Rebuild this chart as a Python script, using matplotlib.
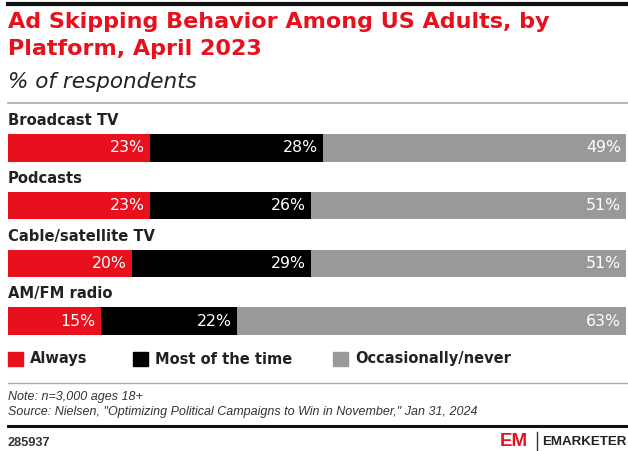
import matplotlib
matplotlib.use('Agg')
import matplotlib.pyplot as plt
from matplotlib.lines import Line2D
from matplotlib.patches import Rectangle

plt.rcParams['font.family'] = ['DejaVu Sans']

# data
platforms = ['Broadcast TV', 'Podcasts', 'Cable/satellite TV', 'AM/FM radio']
always = [23, 23, 20, 15]
most_time = [28, 26, 29, 22]
occasionally = [49, 51, 51, 63]
series_names = ['Always', 'Most of the time', 'Occasionally/never']
colors = ['#e8101c', '#000000', '#999999']

W, H = 628, 451
fig = plt.figure(figsize=(W / 100, H / 100), dpi=100)

def fy(py):
    return 1 - py / H

def fx(px):
    return px / W

# rules
fig.add_artist(Line2D([fx(8), fx(628)], [fy(4), fy(4)], color='#111111', lw=3))
fig.add_artist(Line2D([fx(8), fx(628)], [fy(103), fy(103)], color='#aaaaaa', lw=1.2))
fig.add_artist(Line2D([fx(8), fx(628)], [fy(383), fy(383)], color='#aaaaaa', lw=1.0))
fig.add_artist(Line2D([fx(8), fx(628)], [fy(426), fy(426)], color='#111111', lw=2.2))

# title
fig.text(fx(8), fy(22), 'Ad Skipping Behavior Among US Adults, by',
         color='#e8101c', fontsize=16, fontweight='bold', va='center', ha='left')
fig.text(fx(8), fy(49), 'Platform, April 2023',
         color='#e8101c', fontsize=16, fontweight='bold', va='center', ha='left')
fig.text(fx(8), fy(82), '% of respondents', color='#222222', fontsize=15.5,
         style='italic', va='center', ha='left')

# bars
ax = fig.add_axes([fx(8), fy(335), fx(626) - fx(8), (335 - 134) / H])
ypos = list(range(len(platforms)))
bh = 0.48
left = [0] * len(platforms)
for vals, name, col in zip([always, most_time, occasionally], series_names, colors):
    ax.barh(ypos, vals, left=left, height=bh, color=col, edgecolor='none', label=name)
    for y, v, l in zip(ypos, vals, left):
        ax.text(l + v - 0.8, y, f'{v}%', color='white', fontsize=11.3,
                ha='right', va='center')
    left = [a + b for a, b in zip(left, vals)]

for y, name in zip(ypos, platforms):
    ax.text(0, y - bh / 2 - 0.1, name, fontsize=10.6, fontweight='bold',
            color='#222222', ha='left', va='bottom')

ax.set_xlim(0, 100)
ax.set_ylim(3 + bh / 2, -bh / 2)
ax.axis('off')

# legend
leg_x = [8, 133, 333]
for x, name, col in zip(leg_x, series_names, colors):
    fig.add_artist(Rectangle((fx(x), fy(366)), fx(15), 14 / H, color=col,
                             transform=fig.transFigure))
    fig.text(fx(x + 22), fy(359), name, fontsize=10.5, fontweight='bold',
             color='#222222', va='center', ha='left')

# notes
fig.text(fx(8), fy(397), 'Note: n=3,000 ages 18+', fontsize=9, style='italic',
         color='#333333', va='center', family='Liberation Sans')
fig.text(fx(8), fy(412),
         'Source: Nielsen, "Optimizing Political Campaigns to Win in November," Jan 31, 2024',
         fontsize=9, style='italic', color='#333333', va='center',
         family='Liberation Sans')
fig.text(fx(8), fy(443), '285937', fontsize=9.2, color='#333333', va='center',
         fontweight='bold', family='Liberation Sans')

# logo
fig.text(fx(500), fy(441), 'EM', fontsize=13.5, color='#e8101c', fontweight='bold',
         va='center', ha='left', family='Liberation Sans')
fig.add_artist(Line2D([fx(537), fx(537)], [fy(432), fy(451)], color='#333333', lw=1))
fig.text(fx(542), fy(442), 'EMARKETER', fontsize=9.6, color='#222222',
         fontweight='bold', va='center', ha='left', family='Liberation Sans')

fig.savefig('out.png', dpi=100)
